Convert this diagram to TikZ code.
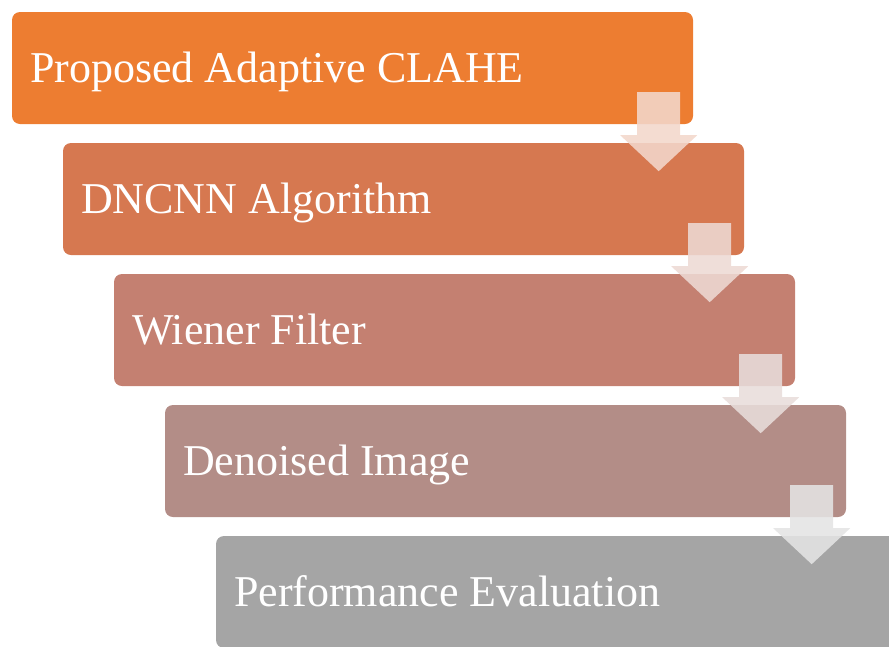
\documentclass[tikz,border=0pt]{standalone}
\usepackage{fontspec}
\setmainfont{Liberation Serif}
\definecolor{stepA}{HTML}{ED7D31}
\definecolor{stepB}{HTML}{D67850}
\definecolor{stepC}{HTML}{C48071}
\definecolor{stepD}{HTML}{B38D87}
\definecolor{stepE}{HTML}{A5A5A5}

\begin{document}
\begin{tikzpicture}[x=1pt,y=-1pt]
\tikzstyle{stepbox}=[rounded corners=8pt,minimum width=681pt,minimum height=112pt,inner sep=0pt];
\tikzstyle{steplabel}=[anchor=base west,text=white,font=\fontsize{44}{48}\selectfont,inner sep=0pt];
\tikzstyle{downarrow}=[fill opacity=0.88];
\useasboundingbox (0,0) rectangle (889,646);
\clip (0,0) rectangle (889,646);

\foreach \i/\col/\txt in {1/stepA/Proposed Adaptive CLAHE,2/stepB/DNCNN Algorithm,3/stepC/Wiener Filter,4/stepD/Denoised Image,5/stepE/Performance Evaluation}
{
   \path (352.5+51*\i-51,68+131*\i-131) node[stepbox,fill=\col] (b\i) {};
   \path (b\i.west) ++(18,14) node[steplabel] (t\i) {\txt};
}

% arrows between the steps
\foreach \i/\col in {1/stepB,2/stepC,3/stepD,4/stepE}
{
   \fill[downarrow,fill=\col!30!white] (b\i.south east) ++(-56,-32) -- ++(43,0) -- ++(0,43) -- ++(17,0)
      -- ++(-38.5,36) -- ++(-38.5,-36) -- ++(17,0) -- cycle;
}
\end{tikzpicture}
\end{document}
